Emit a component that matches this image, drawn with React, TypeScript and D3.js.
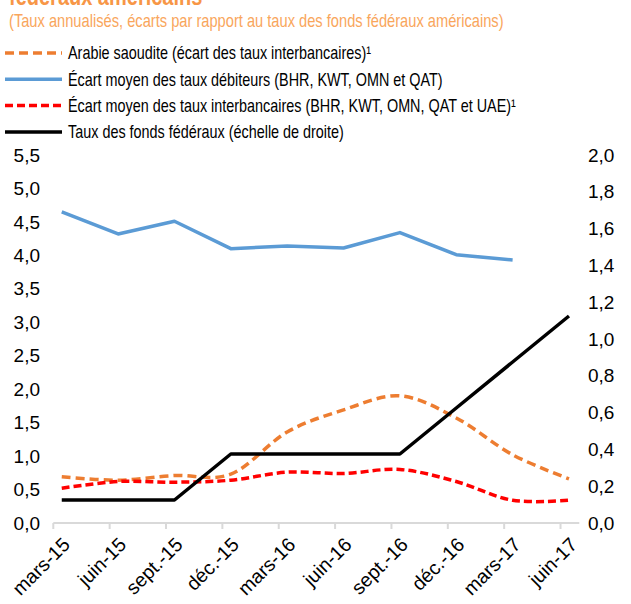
import React from "react";
import * as d3 from "d3";

const categories = ["mars-15", "juin-15", "sept.-15", "déc.-15", "mars-16", "juin-16", "sept.-16", "déc.-16", "mars-17", "juin-17"];
const saudiInterbank = [0.69, 0.64, 0.71, 0.73, 1.36, 1.69, 1.9, 1.57, 1.02, 0.66];
const avgLending = [4.65, 4.32, 4.51, 4.1, 4.14, 4.11, 4.34, 4.01, 3.93];
const avgInterbank = [0.52, 0.62, 0.61, 0.64, 0.76, 0.74, 0.8, 0.62, 0.34, 0.34];
const fedFunds = [0.125, 0.125, 0.125, 0.375, 0.375, 0.375, 0.375, 0.625, 0.875, 1.125];
const leftTicks = [0, 0.5, 1, 1.5, 2, 2.5, 3, 3.5, 4, 4.5, 5, 5.5];
const rightTicks = [0, 0.2, 0.4, 0.6, 0.8, 1, 1.2, 1.4, 1.6, 1.8, 2];

const legendItems = [
  { label: "Arabie saoudite (écart des taux interbancaires)¹", color: "#ED7D31", dash: "9 5" },
  { label: "Écart moyen des taux débiteurs (BHR, KWT, OMN et QAT)", color: "#5B9BD5", dash: null },
  { label: "Écart moyen des taux interbancaires (BHR, KWT, OMN, QAT et UAE)¹", color: "#FF0000", dash: "8 4" },
  { label: "Taux des fonds fédéraux (échelle de droite)", color: "#000000", dash: null },
];

const W = 631;
const H = 604;
const AXIS_FONT = "'Liberation Sans', Arial, sans-serif";
const NARROW_FONT = "'Liberation Sans', Arial, sans-serif";
const NARROW = 0.8;

export default function App() {
  const x0 = 53.3, x1 = 579.3, yTop = 155, yBot = 523;
  const x = d3.scaleLinear().domain([0, 28]).range([x0, x1]);
  const yL = d3.scaleLinear().domain([0, 5.5]).range([yBot, yTop]);
  const yR = d3.scaleLinear().domain([0, 2]).range([yBot, yTop]);
  const px = (i: number) => x(i * 3 + 0.45);

  const straight = d3.line<number>().x((_, i) => px(i)).y((d) => yL(d));
  const smooth = d3.line<number>().x((_, i) => px(i)).y((d) => yL(d)).curve(d3.curveCatmullRom.alpha(0));
  const fedLine = d3.line<number>().x((_, i) => px(i)).y((d) => yR(d));

  const tickIdx = categories.map((_, i) => i * 3);

  return (
    <svg width={W} height={H} style={{ position: "absolute", left: 0, top: 0, background: "#fff" }}>
      <text transform={`translate(9,5) scale(${NARROW},1)`} fontFamily={NARROW_FONT} fontWeight="bold" fontSize={25} fill="#F79646">
        fédéraux américains
      </text>
      <text transform={`translate(9,27) scale(0.815,1)`} fontFamily={NARROW_FONT} fontSize={18} fill="#F9A65C">
        (Taux annualisés, écarts par rapport au taux des fonds fédéraux américains)
      </text>
      {legendItems.map((it, k) => {
        const ly = 53 + k * 26.3;
        return (
          <g key={k}>
            <line x1={5} x2={62} y1={ly} y2={ly} stroke={it.color} strokeWidth={3.5} strokeDasharray={it.dash ?? undefined} />
            <text transform={`translate(68,${ly}) scale(${NARROW},1)`} dy="0.35em" fontFamily={NARROW_FONT} fontSize={18} fill="#000">
              {it.label}
            </text>
          </g>
        );
      })}
      {leftTicks.map((t) => (
        <text key={"l" + t} x={40} y={yL(t)} dy="0.35em" textAnchor="end" fontFamily={AXIS_FONT} fontSize={19} fill="#000">
          {d3.format(".1f")(t).replace(".", ",")}
        </text>
      ))}
      {rightTicks.map((t) => (
        <text key={"r" + t} x={588} y={yR(t)} dy="0.35em" textAnchor="start" fontFamily={AXIS_FONT} fontSize={19} fill="#000">
          {d3.format(".1f")(t).replace(".", ",")}
        </text>
      ))}
      <line x1={x0} x2={x1} y1={yBot} y2={yBot} stroke="#D9D9D9" strokeWidth={2} />
      {tickIdx.map((m) => (
        <line key={"t" + m} x1={x(m)} x2={x(m)} y1={yBot} y2={yBot + 6} stroke="#D9D9D9" strokeWidth={2} />
      ))}
      {categories.map((c, i) => (
        <text
          key={c}
          transform={`translate(${x(i * 3) + 13},${yBot + 18}) rotate(-45)`}
          textAnchor="end"
          dy="0.35em"
          fontFamily={AXIS_FONT}
          fontSize={19.5}
          fill="#000"
        >
          {c}
        </text>
      ))}
      <path d={straight(avgLending) ?? ""} fill="none" stroke="#5B9BD5" strokeWidth={3.5} strokeLinejoin="round" />
      <path d={smooth(saudiInterbank) ?? ""} fill="none" stroke="#ED7D31" strokeWidth={3.5} strokeDasharray="9 5" />
      <path d={smooth(avgInterbank) ?? ""} fill="none" stroke="#FF0000" strokeWidth={3.5} strokeDasharray="8 4" />
      <path d={fedLine(fedFunds) ?? ""} fill="none" stroke="#000" strokeWidth={3.5} strokeLinejoin="round" />
    </svg>
  );
}
